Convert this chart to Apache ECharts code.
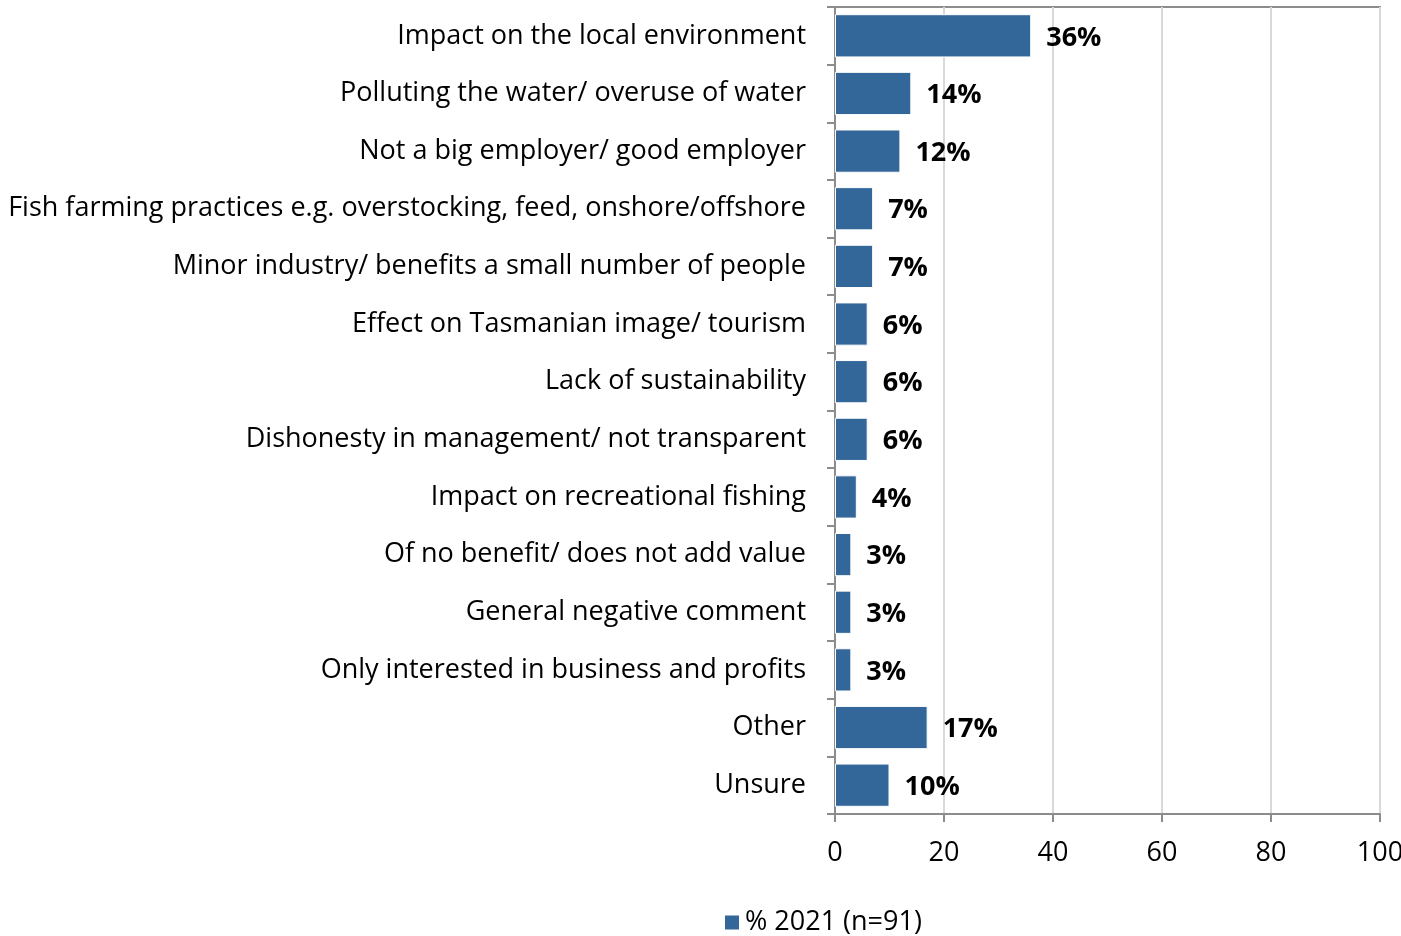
<!DOCTYPE html>
<html>
<head>
<meta charset="utf-8">
<script src="https://cdn.jsdelivr.net/npm/echarts@6/dist/echarts.min.js"></script>
<style>
  html, body { margin: 0; padding: 0; background: #fff; }
  #chart { width: 1401px; height: 936px; }
</style>
</head>
<body>
<div id="chart"></div>
<script>
var categories = [
  "Impact on the local environment",
  "Polluting the water/ overuse of water",
  "Not a big employer/ good employer",
  "Fish farming practices e.g. overstocking, feed, onshore/offshore",
  "Minor industry/ benefits a small number of people",
  "Effect on Tasmanian image/ tourism",
  "Lack of sustainability",
  "Dishonesty in management/ not transparent",
  "Impact on recreational fishing",
  "Of no benefit/ does not add value",
  "General negative comment",
  "Only interested in business and profits",
  "Other",
  "Unsure"
];
var values2021 = [36, 14, 12, 7, 7, 6, 6, 6, 4, 3, 3, 3, 17, 10];
var seriesName = "% 2021 (n=91)";
var xTicks = { min: 0, max: 100, interval: 20 };

var fontFamily = "'Open Sans', sans-serif";
var barColor = "#336699";
var axisGray = "#8c8c8c";

var myChart = echarts.init(document.getElementById("chart"), null, { renderer: "canvas" });

var option = {
  animation: false,
  textStyle: { fontFamily: fontFamily },
  grid: {
    left: 835,
    right: 21,
    top: 7,
    bottom: 122,
    outerBoundsMode: "none",
    show: true,
    borderColor: axisGray,
    borderWidth: 2
  },
  legend: {
    top: 904,
    left: 718,
    itemWidth: 16,
    itemHeight: 16,
    itemGap: 10,
    icon: "rect",
    textStyle: { fontSize: 27, color: "#000", fontFamily: fontFamily },
    data: [seriesName]
  },
  xAxis: {
    type: "value",
    min: xTicks.min,
    max: xTicks.max,
    interval: xTicks.interval,
    axisLine: { show: true, lineStyle: { color: axisGray, width: 2 } },
    axisTick: { show: true, length: 8, lineStyle: { color: axisGray, width: 2 } },
    axisLabel: { fontSize: 27, color: "#000", margin: 26 },
    splitLine: { show: true, lineStyle: { color: "#d9d9d9", width: 2 } }
  },
  yAxis: {
    type: "category",
    inverse: true,
    data: categories,
    axisLine: { show: true, lineStyle: { color: axisGray, width: 2 } },
    axisTick: { show: true, length: 8, lineStyle: { color: axisGray, width: 2 } },
    axisLabel: { fontSize: 27, color: "#000", margin: 29, padding: [4, 0, 0, 0] },
    splitLine: { show: false }
  },
  series: [
    {
      name: seriesName,
      type: "bar",
      data: values2021,
      barCategoryGap: "25%",
      itemStyle: { color: barColor, borderColor: "#ffffff", borderWidth: 1 },
      label: {
        show: true,
        position: "right",
        distance: 15,
        offset: [0, 2],
        formatter: "{c}%",
        fontSize: 27,
        fontWeight: "bold",
        color: "#000"
      }
    }
  ]
};

myChart.setOption(option);
</script>
</body>
</html>
